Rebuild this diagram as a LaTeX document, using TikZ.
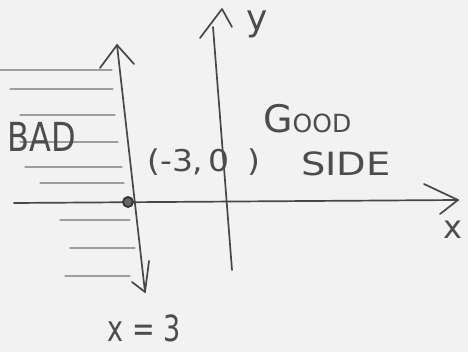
\documentclass[tikz,border=0pt]{standalone}
\usepackage{fontspec}
\setmainfont{DejaVu Sans}
\begin{document}
\begin{tikzpicture}[x=1pt,y=-1pt,
  pencil/.style={draw=black!72, line width=1.7pt, line cap=round, line join=round},
  hatch/.style={draw=black!38, line width=1.3pt, line cap=round},
  lbl/.style={text=black!70, inner sep=0pt}]
\fill[black!5] (0,0) rectangle (468,352);
\useasboundingbox (0,0) rectangle (468,352);
% hatching (bad side)
\foreach \ya/\xa/\xb in {70/0/112, 89/10/113, 115/20/115, 142/20/118, 167/25/122, 183/40/124, 220/60/130, 248/70/135, 276/65/130}
  \draw[hatch] (\xa,\ya) -- (\xb,\ya);
% coordinates
\coordinate (xl) at (14,203);
\coordinate (xr) at (458,200);
\coordinate (ytop) at (213,27);
\coordinate (ybot) at (232,270);
\coordinate (ltop) at (117,45);
\coordinate (lbot) at (145,292);
% x axis
\draw[pencil] (xl) -- (xr);
\draw[pencil] (424,184) -- (xr) -- (440,214);
% y axis
\draw[pencil] (ytop) -- (ybot);
\draw[pencil] (200,38) -- (222,9) -- (232,27);
% boundary line
\draw[pencil] (ltop) -- (lbot);
\draw[pencil] (100,68) -- (ltop) -- (134,64);
\draw[pencil] (132,282) -- (lbot) -- (149,261);
% point
\node[circle, draw=black!80, fill=black!60, line width=1.8pt, minimum size=10pt, inner sep=0pt] (pt) at (128,202) {};
% labels
\node[lbl, font=\fontsize{40}{40}\selectfont, xscale=0.8] (bad) at (42,137) {BAD};
\node[lbl, font=\fontsize{30}{30}\selectfont, xscale=1.1, anchor=west] (pl) at (147,162) {(-3,\,0\hspace{16pt})};
\node[lbl, font=\fontsize{38}{38}\selectfont, anchor=base west] (good) at (263,133) {G\fontsize{25}{25}\selectfont OOD};
\node[lbl, font=\fontsize{32}{32}\selectfont, xscale=1.2, anchor=base] (side) at (346,176) {SIDE};
\node[lbl, font=\fontsize{36}{36}\selectfont] (ylab) at (257,24) {y};
\node[lbl, font=\fontsize{32}{32}\selectfont] (xlab) at (453,230) {x};
\node[lbl, font=\fontsize{36}{36}\selectfont, xscale=0.75] (eq) at (144,328) {x = 3};
\end{tikzpicture}
\end{document}
